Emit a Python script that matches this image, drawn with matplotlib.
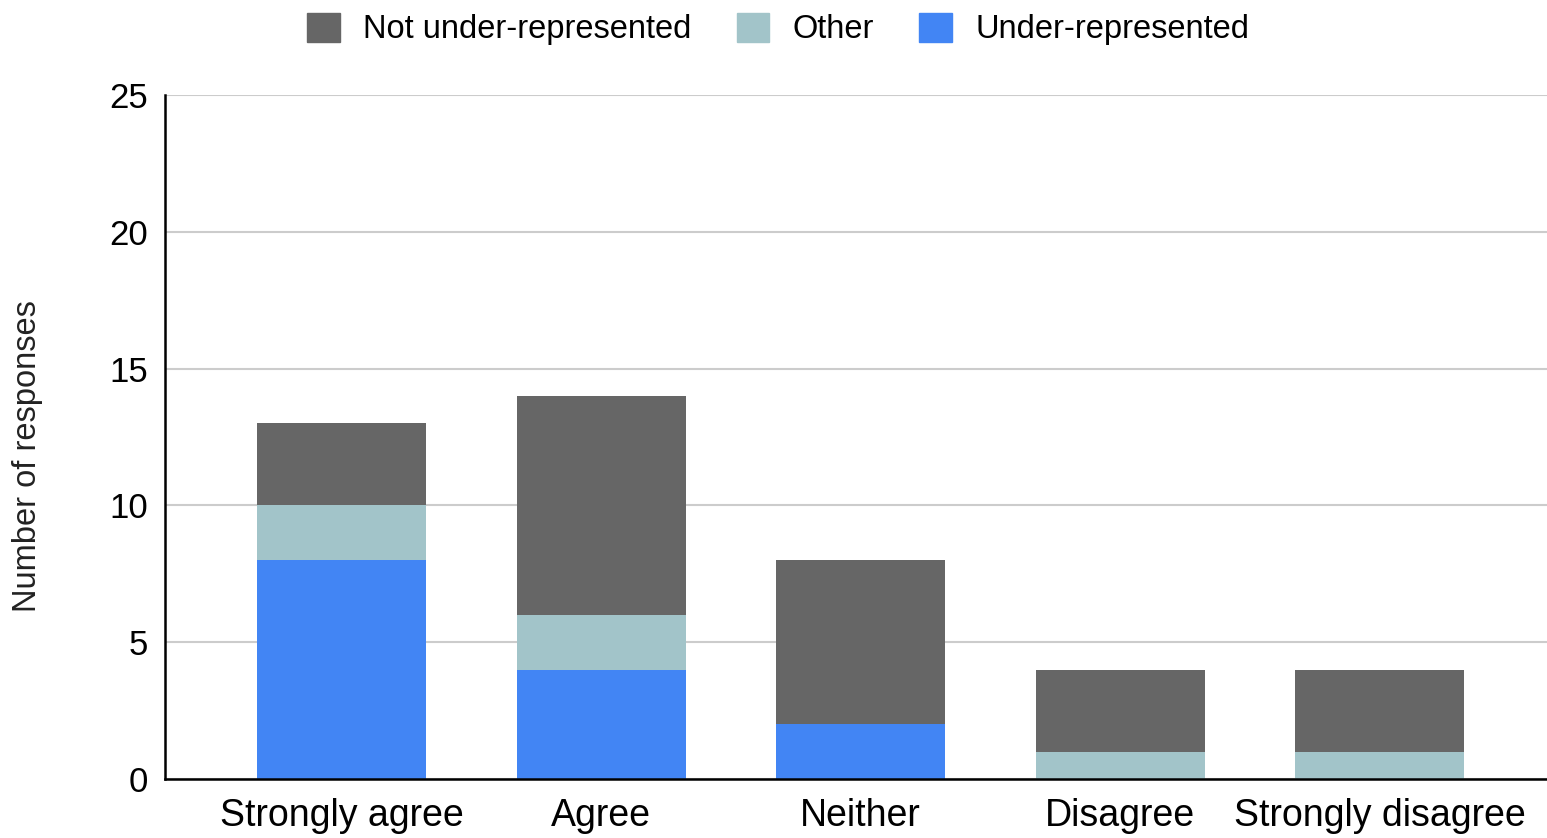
import numpy as np
import matplotlib.pyplot as plt
from matplotlib.patches import Patch

plt.rcParams['font.family'] = ['Liberation Sans', 'DejaVu Sans']

# Data
categories = ["Strongly agree", "Agree", "Neither", "Disagree", "Strongly disagree"]
under_rep = [8, 4, 2, 0, 0]
other = [2, 2, 0, 1, 1]
not_under_rep = [3, 8, 6, 3, 3]

series_names = ["Not under-represented", "Other", "Under-represented"]
colors = {"Not under-represented": "#666666", "Other": "#a2c4c9", "Under-represented": "#4285f4"}

fig = plt.figure(figsize=(15.47, 8.38), dpi=100)
ax = fig.add_axes([0.1067, 0.0704, 0.8933, 0.8162])

x = np.arange(len(categories))
w = 0.651
bottom = np.zeros(len(categories))
for name, vals in [("Under-represented", under_rep), ("Other", other),
                   ("Not under-represented", not_under_rep)]:
    ax.bar(x, vals, width=w, bottom=bottom, color=colors[name], linewidth=0, zorder=2)
    bottom += np.array(vals)

ax.set_xlim(-0.68, 4.645)
ax.set_ylim(0, 25)
ax.set_yticks([0, 5, 10, 15, 20, 25])
ax.set_xticks(x)
ax.set_xticklabels(categories, fontsize=27)
ax.tick_params(axis='y', labelsize=25, length=0, pad=12)
ax.tick_params(axis='x', length=0, pad=14)
ax.grid(axis='y', color='#cccccc', linewidth=1.5, zorder=0)
for s in ['top', 'right']:
    ax.spines[s].set_visible(False)
ax.spines['left'].set_linewidth(1.8)
ax.spines['bottom'].set_linewidth(1.8)
ax.set_ylabel("Number of responses", fontsize=23.5, color='#222222')
ax.yaxis.set_label_coords(-0.088, 0.472)

handles = [Patch(color=colors[n]) for n in series_names]
fig.legend(handles, series_names, loc='upper center', bbox_to_anchor=(0.503, 1.02),
           ncol=3, frameon=False, fontsize=23.5, handlelength=1.0, handleheight=1.0,
           columnspacing=1.38, handletextpad=0.72)

plt.savefig("out.png", dpi=100)
